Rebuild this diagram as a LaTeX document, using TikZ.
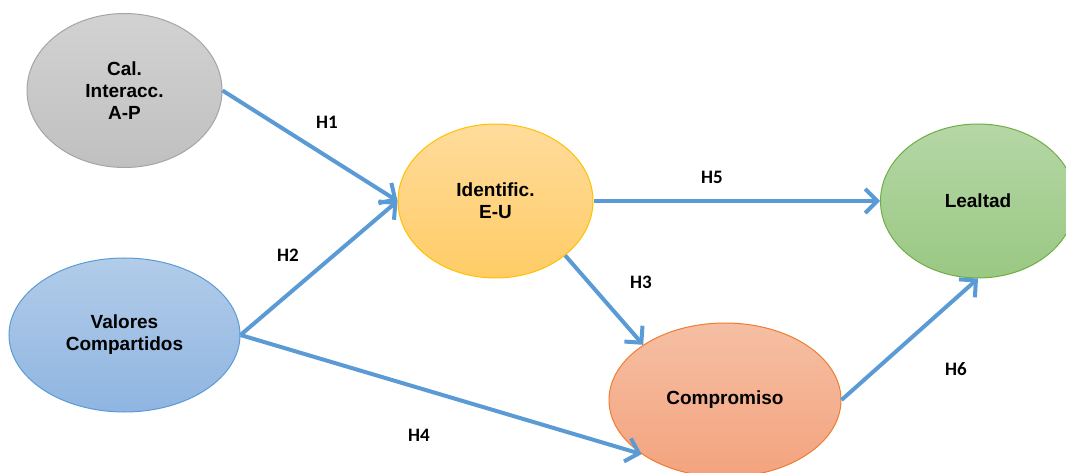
\documentclass[tikz,border=0pt]{standalone}
\usepackage{fontspec}
\setmainfont{Liberation Sans}
\newfontfamily\hypfont{Carlito}
\usepackage{tikz}
\usetikzlibrary{arrows.meta, shapes.geometric, positioning}
\usepackage{xcolor}
\definecolor{arrowblue}{HTML}{5B9BD5}
\definecolor{grayline}{HTML}{A5A5A5}
\definecolor{graytop}{HTML}{D2D2D2}
\definecolor{graybot}{HTML}{C0C0C0}
\definecolor{bluetop}{HTML}{B2CCE9}
\definecolor{bluebot}{HTML}{8FB5E1}
\definecolor{yellowline}{HTML}{FFC000}
\definecolor{yellowtop}{HTML}{FFDC9C}
\definecolor{yellowbot}{HTML}{FFCC66}
\definecolor{salmonline}{HTML}{ED7D31}
\definecolor{salmontop}{HTML}{F5BFA3}
\definecolor{salmonbot}{HTML}{F4A37E}
\definecolor{greenline}{HTML}{70AD47}
\definecolor{greentop}{HTML}{B5D7A6}
\definecolor{greenbot}{HTML}{9AC883}

\begin{document}
\begin{tikzpicture}[x=1pt, y=-1pt,
    construct/.style={ellipse, draw, line width=1pt, minimum width=195pt, minimum height=154pt,
        inner sep=0pt, align=center, font=\fontsize{19}{22}\selectfont\bfseries},
    hyp/.style={-{Straight Barb[length=12pt, width=24pt]}, arrowblue, line width=4pt},
    hyplabel/.style={font=\hypfont\fontsize{19}{22}\selectfont\bfseries}]
    \useasboundingbox (0,0) rectangle (1066,473);

    % Constructs
    \node[construct, draw=grayline, top color=graytop, bottom color=graybot] (cal) at (124.5,90.5) {Cal.\\Interacc.\\A-P};
    \node[construct, draw=arrowblue, top color=bluetop, bottom color=bluebot, minimum width=231pt] (valores) at (124.5,335) {Valores\\Compartidos};
    \node[construct, draw=yellowline, top color=yellowtop, bottom color=yellowbot] (ident) at (495.5,201) {Identific.\\E-U};
    \node[construct, draw=greenline, top color=greentop, bottom color=greenbot] (lealtad) at (978,201) {Lealtad};
    \node[construct, draw=salmonline, top color=salmontop, bottom color=salmonbot, minimum width=232pt] (compromiso) at (725,400) {Compromiso};

    % Hypotheses
    \draw[hyp] (cal.east) -- (ident.west);
    \draw[hyp] (valores.east) -- (ident.west);
    \draw[hyp] (ident.east) -- (lealtad.west);
    \draw[hyp] (ident.322) -- (compromiso.146);
    \draw[hyp] (valores.east) -- (compromiso.213);
    \draw[hyp] (compromiso.east) -- (lealtad.south);

    % Labels
    \node[hyplabel] (h1) at (327,122) {H1};
    \node[hyplabel] (h2) at (288,255) {H2};
    \node[hyplabel] (h3) at (641,282) {H3};
    \node[hyplabel] (h4) at (419,435) {H4};
    \node[hyplabel] (h5) at (712,177) {H5};
    \node[hyplabel] (h6) at (956,369) {H6};
\end{tikzpicture}
\end{document}
